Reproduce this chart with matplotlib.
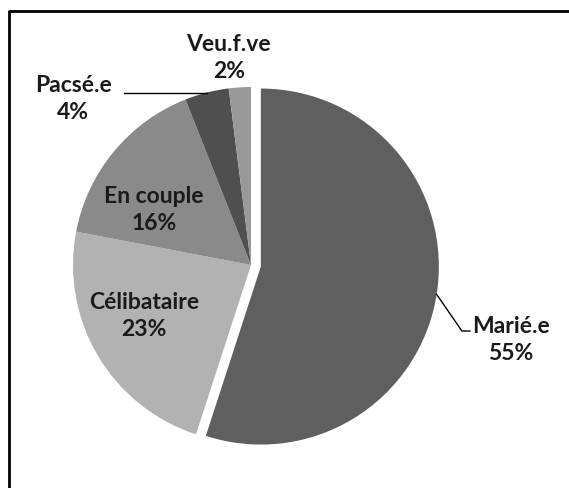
import numpy as np
import matplotlib.pyplot as plt
from matplotlib.lines import Line2D

# Data
labels = ['Marié.e', 'Célibataire', 'En couple', 'Pacsé.e', 'Veu.f.ve']
values = [55, 23, 16, 4, 2]
colors = ['#5f5f5f', '#b2b2b2', '#8a8a8a', '#4f4f4f', '#999999']

W, H = 569, 489
cx, cy, r = 251, 266, 178   # pie centre and radius in pixels

fig = plt.figure(figsize=(W / 100, H / 100), dpi=100)
ax = fig.add_axes([0, 0, 1, 1])

wedges, _ = ax.pie(values, colors=colors, startangle=90, counterclock=False,
                   explode=[0.056, 0, 0, 0, 0], radius=1,
                   wedgeprops=dict(linewidth=0))
# pie resets the limits, so set them afterwards
ax.set_xlim(-cx / r, (W - cx) / r)
ax.set_ylim(-(H - cy) / r, cy / r)
ax.axis('off')

font = dict(family='Lato', fontsize=16.5, fontweight='bold', color='#1a1a1a',
            ha='center', va='center', linespacing=1.4)

# label centres (data coords)
label_pos = [(1.46, -0.416), (-0.601, -0.281), (-0.545, 0.315),
             (-1.0, 0.938), (-0.124, 1.169)]
for lab, v, (x, y) in zip(labels, values, label_pos):
    ax.text(x, y, f'{lab}\n{v}%', **font)

def edge_point(w):
    th = np.deg2rad((w.theta1 + w.theta2) / 2)
    c = w.center
    return c[0] + w.r * np.cos(th), c[1] + w.r * np.sin(th)

# leader line Marié.e
ex, ey = edge_point(wedges[0])
ax.plot([ex, 1.185, 1.23], [ey, -0.371, -0.371], color='black', lw=1)
# leader line Pacsé.e
px, py = edge_point(wedges[3])
ax.plot([-0.714, px], [py, py], color='black', lw=1)

# frame (top and left only, rest cropped)
fy = 1 - 12 / H
fx = 9 / W
fig.add_artist(Line2D([fx, fx, 1], [0, fy, fy], color='black', lw=2,
                      transform=fig.transFigure))

fig.savefig('out.png', dpi=100)
